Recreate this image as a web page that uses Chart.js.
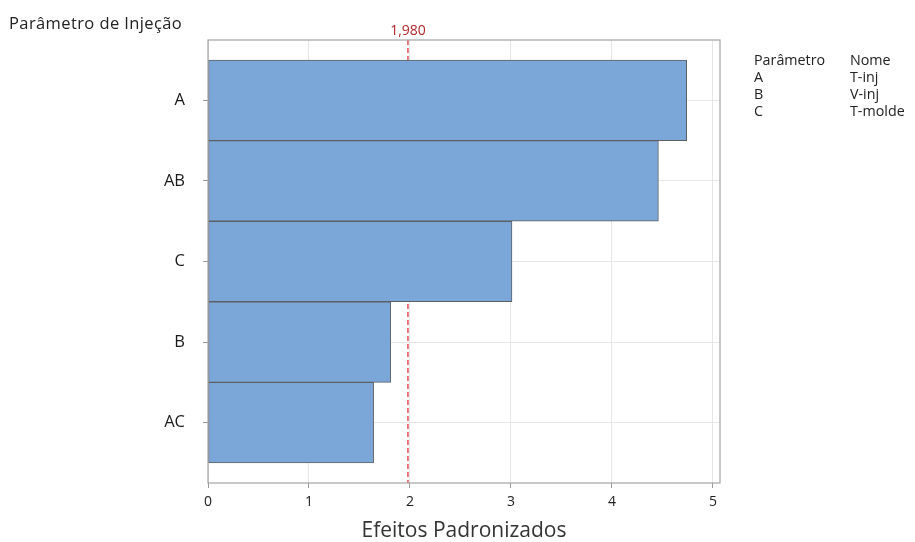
<!DOCTYPE html>
<html>
<head>
<meta charset="utf-8">
<script src="https://cdn.jsdelivr.net/npm/chart.js@4.4.1/dist/chart.umd.min.js"></script>
<style>
  html, body { margin: 0; padding: 0; background: #fff; }
  #wrap { position: relative; width: 915px; height: 542px; font-family: "Open Sans", "DejaVu Sans", sans-serif; }
  #chart { position: absolute; left: 0; top: 0; }
  #yTitle { position: absolute; left: 9px; top: 11px; font-size: 16.5px; letter-spacing: 0.4px; color: #222; white-space: nowrap; }
  #key { position: absolute; left: 754px; top: 51px; font-size: 14.3px; color: #222; border-collapse: collapse; line-height: 17px; }
  #key td { padding: 0; vertical-align: top; }
  #key td.code { width: 96px; }
</style>
</head>
<body>
<div id="wrap">
  <canvas id="chart" width="915" height="542"></canvas>
  <div id="yTitle">Parâmetro de Injeção</div>
  <table id="key"><tbody></tbody></table>
</div>
<script>
// Pareto of standardized effects
const terms = ['A', 'AB', 'C', 'B', 'AC'];
const effects = [4.74, 4.46, 3.01, 1.81, 1.64];
const criticalValue = 1.98;
const criticalLabel = '1,980';
const xTickValues = [0, 1, 2, 3, 4, 5];
const keyHeader = ['Parâmetro', 'Nome'];
const keyCodes = ['A', 'B', 'C'];
const keyNames = ['T-inj', 'V-inj', 'T-molde'];

// factor key table
const tbody = document.querySelector('#key tbody');
[[keyHeader[0], keyHeader[1]]].concat(keyCodes.map((c, i) => [c, keyNames[i]])).forEach(row => {
  const tr = document.createElement('tr');
  const a = document.createElement('td'); a.className = 'code'; a.textContent = row[0];
  const b = document.createElement('td'); b.textContent = row[1];
  tr.appendChild(a); tr.appendChild(b); tbody.appendChild(tr);
});

const FONT = '"Open Sans", "DejaVu Sans", sans-serif';

// frame around the plot area plus the critical value reference line
const frame = {
  id: 'frame',
  beforeDatasetsDraw(chart) {
    const { ctx, chartArea: a, scales } = chart;
    const x = scales.x.getPixelForValue(criticalValue);
    ctx.save();
    ctx.strokeStyle = '#e0262b';
    ctx.lineWidth = 1.2;
    ctx.setLineDash([5, 3]);
    ctx.beginPath();
    ctx.moveTo(x, a.top);
    ctx.lineTo(x, a.bottom);
    ctx.stroke();
    ctx.restore();
  },
  afterDatasetsDraw(chart) {
    const { ctx, chartArea: a, scales } = chart;
    ctx.save();
    ctx.strokeStyle = '#a3a3a3';
    ctx.lineWidth = 1.2;
    ctx.strokeRect(a.left, a.top, a.right - a.left, a.bottom - a.top);
    const x = scales.x.getPixelForValue(criticalValue);
    ctx.fillStyle = '#b3262b';
    ctx.font = '14px ' + FONT;
    ctx.textAlign = 'center';
    ctx.textBaseline = 'alphabetic';
    ctx.fillText(criticalLabel, x, a.top - 5);
    ctx.restore();
  }
};

new Chart(document.getElementById('chart'), {
  type: 'bar',
  data: {
    datasets: [{
      data: effects.map((v, i) => ({ x: v, y: i })),
      backgroundColor: '#7ba6d8',
      borderColor: '#5c5f64',
      borderWidth: 1,
      borderSkipped: false,
      categoryPercentage: 1,
      barPercentage: 1
    }]
  },
  options: {
    indexAxis: 'y',
    responsive: false,
    animation: false,
    layout: { padding: { left: 0, right: 195, top: 40, bottom: 0 } },
    plugins: { legend: { display: false }, tooltip: { enabled: false } },
    scales: {
      x: {
        type: 'linear',
        min: 0,
        max: 5.07,
        offset: false,
        afterBuildTicks(scale) { scale.ticks = xTickValues.map(v => ({ value: v })); },
        afterFit(scale) { scale.height = 59; },
        grid: { color: '#e6e6e6', tickColor: '#9a9a9a', tickLength: 5, lineWidth: 1, offset: false },
        border: { display: false },
        ticks: { color: '#222', font: { family: FONT, size: 14 }, padding: 6, maxRotation: 0 },
        title: { display: true, text: 'Efeitos Padronizados', color: '#333', font: { family: FONT, size: 21, lineHeight: 1 }, padding: { top: 0, bottom: 0 } }
      },
      y: {
        type: 'linear',
        reverse: true,
        min: -0.75,
        max: 4.75,
        offset: false,
        afterBuildTicks(scale) { scale.ticks = terms.map((t, i) => ({ value: i })); },
        afterFit(scale) { scale.width = 208; },
        grid: { color: '#e6e6e6', tickColor: '#9a9a9a', tickLength: 5, lineWidth: 1, offset: false },
        border: { display: false },
        ticks: {
          color: '#1a1a1a',
          font: { family: FONT, size: 16.5 },
          padding: 18,
          callback: v => terms[v]
        }
      }
    }
  },
  plugins: [frame]
});
</script>
</body>
</html>
